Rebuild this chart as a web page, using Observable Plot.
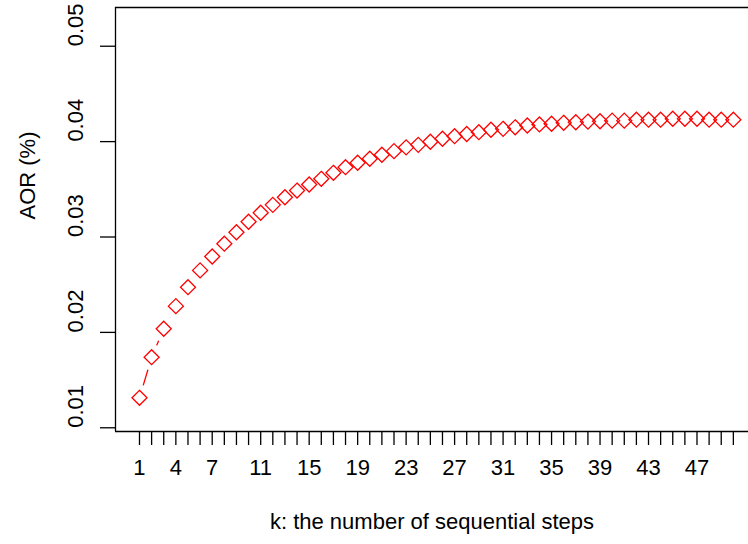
<!DOCTYPE html>
<html>
<head>
<meta charset="utf-8">
<script src="https://cdn.jsdelivr.net/npm/d3@7"></script>
<script src="https://cdn.jsdelivr.net/npm/@observablehq/plot@0.6"></script>
<style>
  html, body { margin: 0; padding: 0; background: #fff; }
</style>
</head>
<body>
<div id="chart"></div>
<script>
const steps = [1,2,3,4,5,6,7,8,9,10,11,12,13,14,15,16,17,18,19,20,21,22,23,24,25,
               26,27,28,29,30,31,32,33,34,35,36,37,38,39,40,41,42,43,44,45,46,47,48,49,50];
const aor = [0.01314,0.0174,0.02038,0.02275,0.02474,0.0265,0.02796,0.0293,0.0305,0.0316,
             0.03254,0.03337,0.03417,0.03487,0.0355,0.0361,0.03673,0.03732,0.03778,0.0382,
             0.03862,0.039,0.0394,0.03966,0.03999,0.0403,0.04057,0.0408,0.04099,0.04124,
             0.04134,0.0415,0.04169,0.0418,0.04187,0.04197,0.04203,0.0421,0.04214,0.0422,
             0.0422,0.0423,0.0423,0.0423,0.0424,0.0424,0.0424,0.0423,0.0423,0.0423];
const xTickLabels = [1,4,7,11,15,19,23,27,31,35,39,43,47];
const yTicks = [0.01,0.02,0.03,0.04,0.05];
const xTitle = "k: the number of sequential steps";
const yTitle = "AOR (%)";

const data = steps.map((k, i) => ({k, v: aor[i]}));
const xDomain = [-0.98, 51.25];
const yDomain = [0.00961, 0.05406];
const fs = 22;

const chart = Plot.plot({
  width: 748,
  height: 544,
  marginLeft: 115,
  marginRight: 0,
  marginTop: 7,
  marginBottom: 113,
  style: {fontFamily: "'Liberation Sans', Arial, Helvetica, sans-serif", fontSize: fs + "px", background: "#fff", color: "#000"},
  x: {domain: xDomain},
  y: {domain: yDomain},
  marks: [
    Plot.ruleY([yDomain[0], yDomain[1]], {stroke: "#000", strokeWidth: 1.3}),
    Plot.ruleX([xDomain[0]], {stroke: "#000", strokeWidth: 1.3}),
    Plot.axisX({ticks: steps, tickSize: 14, tickFormat: () => "", label: null, strokeWidth: 1.3, stroke: "#000"}),
    Plot.axisY({ticks: yTicks, tickSize: 15, tickFormat: () => "", label: null, strokeWidth: 1.3, stroke: "#000"}),
    Plot.text(xTickLabels, {x: d => d, frameAnchor: "bottom", dy: 43, text: d => String(d), fill: "#000", fontSize: fs}),
    Plot.text(yTicks, {y: d => d, frameAnchor: "left", dx: -40, rotate: -90, text: d => d3.format(".2f")(d), fill: "#000", fontSize: fs}),
    Plot.text([xTitle], {frameAnchor: "bottom", dy: 97, text: d => d, fill: "#000", fontSize: fs}),
    Plot.text([yTitle], {frameAnchor: "left", dx: -88, rotate: -90, text: d => d, fill: "#000", fontSize: fs}),
    Plot.line(data, {x: "k", y: "v", stroke: "#ff0000", strokeWidth: 1.3}),
    Plot.dot(data, {x: "k", y: "v", r: 13, fill: "#fff", stroke: "none"}),
    Plot.dot(data, {x: "k", y: "v", r: 6.76, symbol: "diamond2", stroke: "#ff0000", strokeWidth: 1.3, fill: "none"})
  ]
});
document.getElementById("chart").appendChild(chart);
</script>
</body>
</html>
